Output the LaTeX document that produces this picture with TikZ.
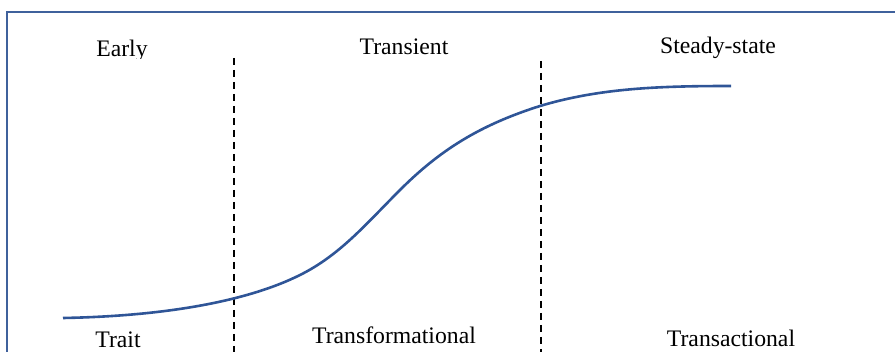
\documentclass[tikz,border=0pt]{standalone}
\usepackage{fontspec}
\setmainfont{Liberation Serif}
\definecolor{frameblue}{HTML}{3F619C}
\definecolor{curveblue}{HTML}{2F5597}
\begin{document}
\begin{tikzpicture}[x=1pt,y=-1pt,
  lbl/.style={anchor=base,inner sep=0pt,font=\fontsize{23.7}{28}\selectfont},
  divider/.style={black,line width=1.5pt,dash pattern=on 7pt off 5pt},
  scurve/.style={curveblue,line width=2.6pt}]
\useasboundingbox (0,0) rectangle (895,352);
\begin{scope}
\clip (0,0) rectangle (895,352);
\draw[frameblue,line width=2.4pt] (7,12) rectangle (905,370);
\coordinate (d1t) at (234,58);
\coordinate (d1b) at (234,352);
\coordinate (d2t) at (541,61);
\coordinate (d2b) at (541,352);
\draw[divider] (d1t) -- (d1b);
\draw[divider] (d2t) -- (d2b);
\coordinate (c0) at (63,318);
\coordinate (c1) at (300,275);
\coordinate (c2) at (400,190);
\coordinate (c3) at (540,106);
\coordinate (c4) at (731,86);
\draw[scurve] (c0) .. controls (170,316) and (250,300) .. (c1)
  .. controls (340,255) and (365,225) .. (c2)
  .. controls (440,150) and (480,125) .. (c3)
  .. controls (600,88) and (660,86) .. (c4);
\begin{scope}
\clip (0,0) rectangle (895,59);
\node[lbl] (early) at (122,57) {Early};
\node[lbl] (transient) at (404,55) {Transient};
\node[lbl] (steady) at (718,54) {Steady-state};
\end{scope}
\node[lbl] (trait) at (118,348) {Trait};
\node[lbl] (transf) at (394,344) {Transformational};
\node[lbl] (transac) at (731,347) {Transactional};
\end{scope}
\end{tikzpicture}
\end{document}
